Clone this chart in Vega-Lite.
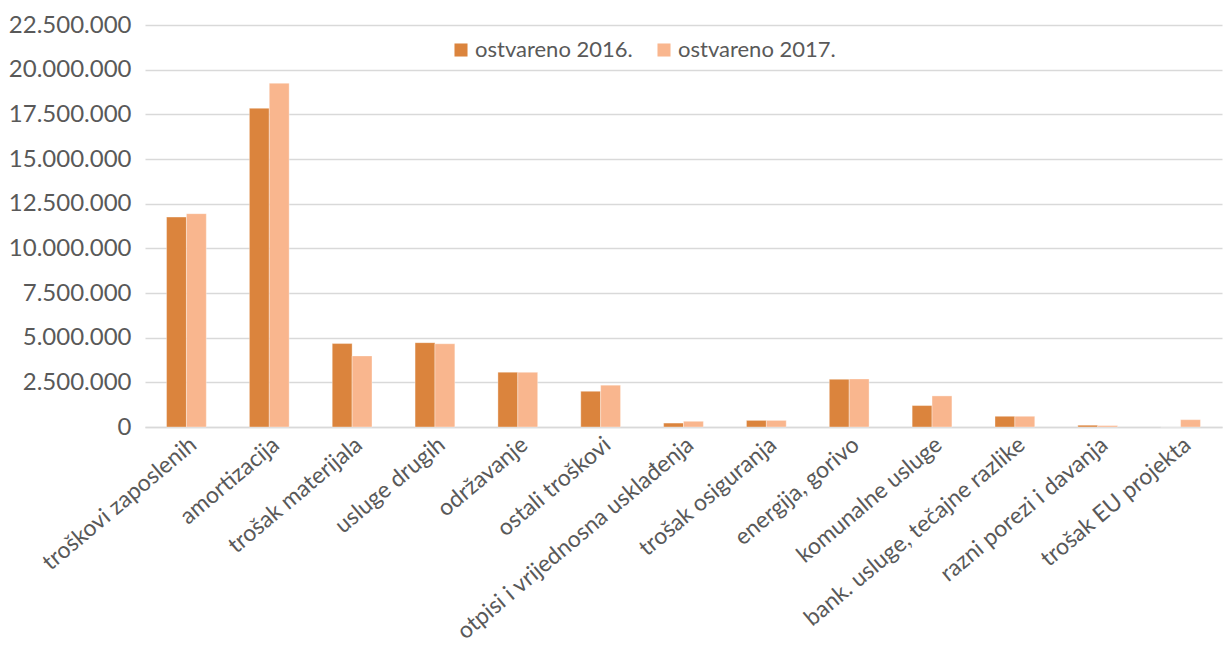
{
  "$schema": "https://vega.github.io/schema/vega-lite/v6.json",
  "autosize": {"type": "none"},
  "padding": {"left": 145, "top": 25, "right": 1, "bottom": 219},
  "width": 1077,
  "height": 402,
  "background": "white",
  "config": {
    "locale": {"number": {"decimal": ",", "thousands": ".", "grouping": [3], "currency": ["", ""]}},
    "font": "Lato",
    "view": {"stroke": null}
  },
  "data": {
    "values": [
      {"kategorija": "troškovi zaposlenih", "serija": "ostvareno 2016.", "iznos": 11750000},
      {"kategorija": "troškovi zaposlenih", "serija": "ostvareno 2017.", "iznos": 11940000},
      {"kategorija": "amortizacija", "serija": "ostvareno 2016.", "iznos": 17840000},
      {"kategorija": "amortizacija", "serija": "ostvareno 2017.", "iznos": 19240000},
      {"kategorija": "trošak materijala", "serija": "ostvareno 2016.", "iznos": 4670000},
      {"kategorija": "trošak materijala", "serija": "ostvareno 2017.", "iznos": 3980000},
      {"kategorija": "usluge drugih", "serija": "ostvareno 2016.", "iznos": 4720000},
      {"kategorija": "usluge drugih", "serija": "ostvareno 2017.", "iznos": 4660000},
      {"kategorija": "održavanje", "serija": "ostvareno 2016.", "iznos": 3070000},
      {"kategorija": "održavanje", "serija": "ostvareno 2017.", "iznos": 3060000},
      {"kategorija": "ostali troškovi", "serija": "ostvareno 2016.", "iznos": 2000000},
      {"kategorija": "ostali troškovi", "serija": "ostvareno 2017.", "iznos": 2340000},
      {"kategorija": "otpisi i vrijednosna usklađenja", "serija": "ostvareno 2016.", "iznos": 220000},
      {"kategorija": "otpisi i vrijednosna usklađenja", "serija": "ostvareno 2017.", "iznos": 320000},
      {"kategorija": "trošak osiguranja", "serija": "ostvareno 2016.", "iznos": 370000},
      {"kategorija": "trošak osiguranja", "serija": "ostvareno 2017.", "iznos": 370000},
      {"kategorija": "energija, gorivo", "serija": "ostvareno 2016.", "iznos": 2670000},
      {"kategorija": "energija, gorivo", "serija": "ostvareno 2017.", "iznos": 2690000},
      {"kategorija": "komunalne usluge", "serija": "ostvareno 2016.", "iznos": 1200000},
      {"kategorija": "komunalne usluge", "serija": "ostvareno 2017.", "iznos": 1740000},
      {"kategorija": "bank. usluge, tečajne razlike", "serija": "ostvareno 2016.", "iznos": 600000},
      {"kategorija": "bank. usluge, tečajne razlike", "serija": "ostvareno 2017.", "iznos": 600000},
      {"kategorija": "razni porezi i davanja", "serija": "ostvareno 2016.", "iznos": 100000},
      {"kategorija": "razni porezi i davanja", "serija": "ostvareno 2017.", "iznos": 80000},
      {"kategorija": "trošak EU projekta", "serija": "ostvareno 2016.", "iznos": 0},
      {"kategorija": "trošak EU projekta", "serija": "ostvareno 2017.", "iznos": 410000}
    ]
  },
  "mark": {"type": "bar", "stroke": "white", "strokeOpacity": 0.35, "strokeWidth": 1},
  "encoding": {
    "x": {
      "field": "kategorija",
      "type": "nominal",
      "sort": null,
      "scale": {"paddingInner": 0.52, "paddingOuter": 0.26},
      "axis": {
        "title": null,
        "labelAngle": -40,
        "labelFontSize": 23,
        "labelColor": "#595959",
        "labelPadding": 6,
        "labelLimit": 400,
        "ticks": false,
        "domainColor": "#d9d9d9",
        "domainWidth": 1.5
      }
    },
    "xOffset": {"field": "serija", "type": "nominal", "scale": {"paddingInner": 0}},
    "y": {
      "field": "iznos",
      "type": "quantitative",
      "scale": {"domain": [0, 22500000], "nice": false},
      "axis": {
        "title": null,
        "values": [0, 2500000, 5000000, 7500000, 10000000, 12500000, 15000000, 17500000, 20000000, 22500000],
        "format": ",d",
        "labelFontSize": 24,
        "labelColor": "#595959",
        "labelPadding": 14,
        "ticks": false,
        "domain": false,
        "gridColor": "#d9d9d9",
        "gridWidth": 1.5
      }
    },
    "color": {
      "field": "serija",
      "type": "nominal",
      "scale": {"domain": ["ostvareno 2016.", "ostvareno 2017."], "range": ["#DB843D", "#F9B68E"]},
      "legend": {
        "title": null,
        "orient": "none",
        "direction": "horizontal",
        "legendX": 305,
        "legendY": 14,
        "symbolType": "square",
        "symbolSize": 170,
        "symbolStrokeWidth": 0,
        "labelFontSize": 22,
        "labelColor": "#595959",
        "columnPadding": 20,
        "labelOffset": 3
      }
    }
  }
}
